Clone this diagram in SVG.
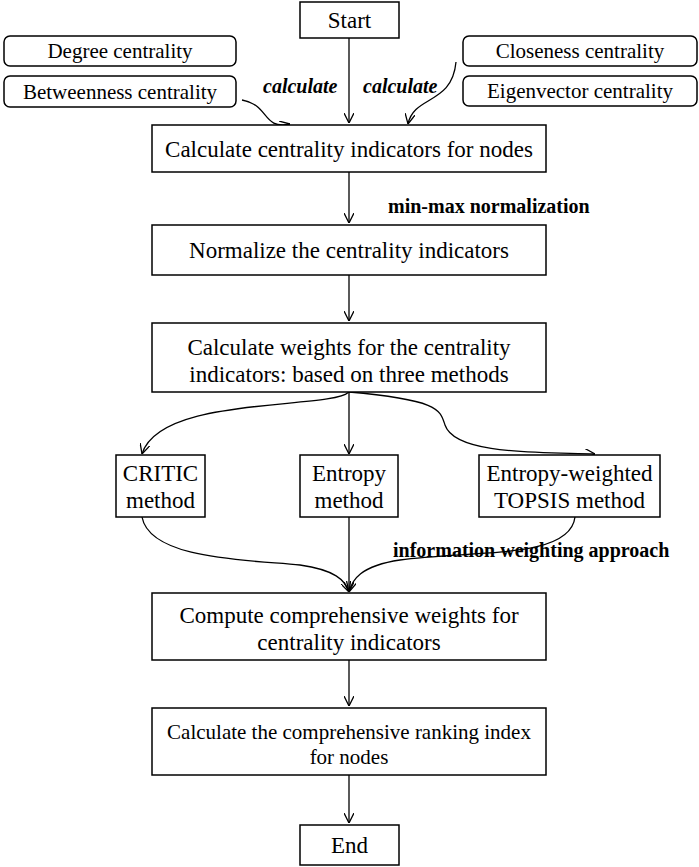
<svg xmlns="http://www.w3.org/2000/svg" width="699" height="867" viewBox="0 0 699 867">
<defs><marker id="a" viewBox="0 0 10 10" refX="10" refY="5" markerWidth="10" markerHeight="10" orient="auto" markerUnits="userSpaceOnUse"><path d="M0,0 L10,5 L0,10" fill="none" stroke="#000" stroke-width="1.3"/></marker></defs>
<style>
rect{fill:#fff;stroke:#000;stroke-width:1.5}
text{font-family:"Liberation Serif",serif;font-size:23px;text-anchor:middle;fill:#000}
.s{font-size:21px}
.b{font-weight:bold;font-size:20px;text-anchor:start}
.i{font-style:italic}
#c path{fill:none;stroke:#000;stroke-width:1.3;marker-end:url(#a)}
</style>
<g id="c">
<path d="M349,38 V123"/>
<path d="M242,100 C270,105 262,130 290,124"/>
<path d="M456,62 C452,105 414,95 408,124"/>
<path d="M349,172 V223"/>
<path d="M349,275 V321"/>
<path d="M349,392 C330,410 160,395 142,454"/>
<path d="M349,392 V454"/>
<path d="M349,392 C440,400 440,410 445,425 C455,455 540,452 595,454"/>
<path d="M349,517 V592"/>
<path d="M142,517 C150,560 250,560 300,565 C335,570 345,580 349,592"/>
<path d="M575,517 C570,560 470,550 400,560 C360,566 352,580 349,592"/>
<path d="M349,660 V706"/>
<path d="M349,775 V823"/>
</g>
<g id="start"><rect x="300" y="2" width="99" height="36"/><text x="349.5" y="28">Start</text></g>
<g id="degree"><rect x="4" y="36" width="232" height="30" rx="6"/><text class="s" x="120" y="58">Degree centrality</text></g>
<g id="betweenness"><rect x="4" y="76" width="232" height="31" rx="6"/><text class="s" x="120" y="99">Betweenness centrality</text></g>
<g id="closeness"><rect x="463" y="36" width="234" height="30" rx="6"/><text class="s" x="580" y="58">Closeness centrality</text></g>
<g id="eigen"><rect x="463" y="76" width="234" height="30" rx="6"/><text class="s" x="580" y="98">Eigenvector centrality</text></g>
<text class="b i" x="263" y="93">calculate</text>
<text class="b i" x="363" y="93">calculate</text>
<g id="calc"><rect x="152" y="125" width="394" height="47"/><text x="349" y="157">Calculate centrality indicators for nodes</text></g>
<text class="b" x="388" y="213">min-max normalization</text>
<g id="norm"><rect x="152" y="225" width="394" height="50"/><text x="349" y="258">Normalize the centrality indicators</text></g>
<g id="weights"><rect x="152" y="323" width="394" height="69"/><text x="349" y="355">Calculate weights for the centrality</text><text x="349" y="382">indicators: based on three methods</text></g>
<g id="critic"><rect x="116" y="455" width="89" height="62"/><text x="160.5" y="481">CRITIC</text><text x="160.5" y="508">method</text></g>
<g id="entropy"><rect x="300" y="455" width="98" height="62"/><text x="349" y="481">Entropy</text><text x="349" y="508">method</text></g>
<g id="topsis"><rect x="479" y="455" width="181" height="62"/><text x="569.5" y="481">Entropy-weighted</text><text x="569.5" y="508">TOPSIS method</text></g>
<text class="b" x="393" y="557">information weighting approach</text>
<g id="comp"><rect x="152" y="593" width="394" height="67"/><text x="349" y="623">Compute comprehensive weights for</text><text x="349" y="650">centrality indicators</text></g>
<g id="rank"><rect x="152" y="708" width="394" height="67"/><text class="s" x="349" y="739">Calculate the comprehensive ranking index</text><text class="s" x="349" y="764">for nodes</text></g>
<g id="end"><rect x="300" y="825" width="99" height="40"/><text x="349.5" y="853">End</text></g>
</svg>
